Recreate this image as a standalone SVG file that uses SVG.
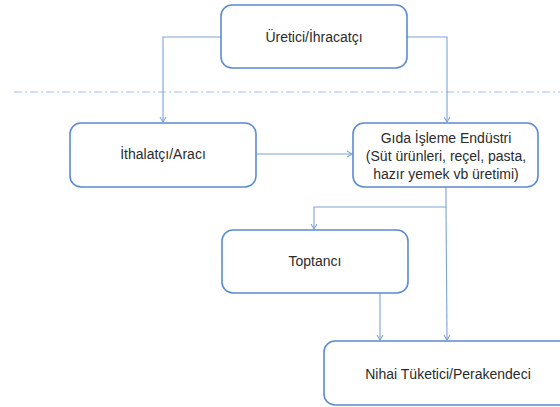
<svg xmlns="http://www.w3.org/2000/svg" width="560" height="407" viewBox="0 0 560 407">
<style>
.box{fill:#ffffff;stroke:#5b8bd0;stroke-width:1.6}
.lbl{font-family:"Liberation Sans",Arial,sans-serif;font-size:14px;fill:#2b2b2b;text-anchor:middle}
.con{fill:none;stroke:#7ea3d8;stroke-width:1.1}
</style>
<defs>
<marker id="ah" markerWidth="8" markerHeight="8" refX="6" refY="4" orient="auto" markerUnits="userSpaceOnUse">
<path d="M1,1 L6,4 L1,7" fill="none" stroke="#7ea3d8" stroke-width="1.1"/>
</marker>
</defs>
<rect width="560" height="407" fill="#ffffff"/>
<line x1="14" y1="92" x2="560" y2="92" stroke="#9dc0e6" stroke-width="1.2" stroke-dasharray="8,3,2,3"/>
<g id="connectors">
<path class="con" d="M221,37 H163 V122" marker-end="url(#ah)"/>
<path class="con" d="M407,37 H447 V122" marker-end="url(#ah)"/>
<path class="con" d="M256,154 H352" marker-end="url(#ah)"/>
<path class="con" d="M446,187 V207 H314 V229" marker-end="url(#ah)"/>
<path class="con" d="M446,207 L447,340" marker-end="url(#ah)"/>
<path class="con" d="M380,293 V340" marker-end="url(#ah)"/>
</g>
<g id="uretici">
<rect class="box" x="221" y="5" width="186" height="63" rx="11"/>
<text class="lbl" x="314" y="42">Üretici/İhracatçı</text>
</g>
<g id="ithalatci">
<rect class="box" x="70" y="123" width="186" height="64" rx="11"/>
<text class="lbl" x="163" y="159">İthalatçı/Aracı</text>
</g>
<g id="gida">
<rect class="box" x="353" y="123" width="185" height="64" rx="11"/>
<text class="lbl" x="446" y="143">Gıda İşleme Endüstri</text>
<text class="lbl" x="446" y="161">(Süt ürünleri, reçel, pasta,</text>
<text class="lbl" x="446" y="179">hazır yemek vb üretimi)</text>
</g>
<g id="toptanci">
<rect class="box" x="222" y="230" width="186" height="63" rx="11"/>
<text class="lbl" x="315" y="266">Toptancı</text>
</g>
<g id="nihai">
<rect class="box" x="324" y="341" width="250" height="64" rx="11"/>
<text class="lbl" x="448" y="379">Nihai Tüketici/Perakendeci</text>
</g>
</svg>
